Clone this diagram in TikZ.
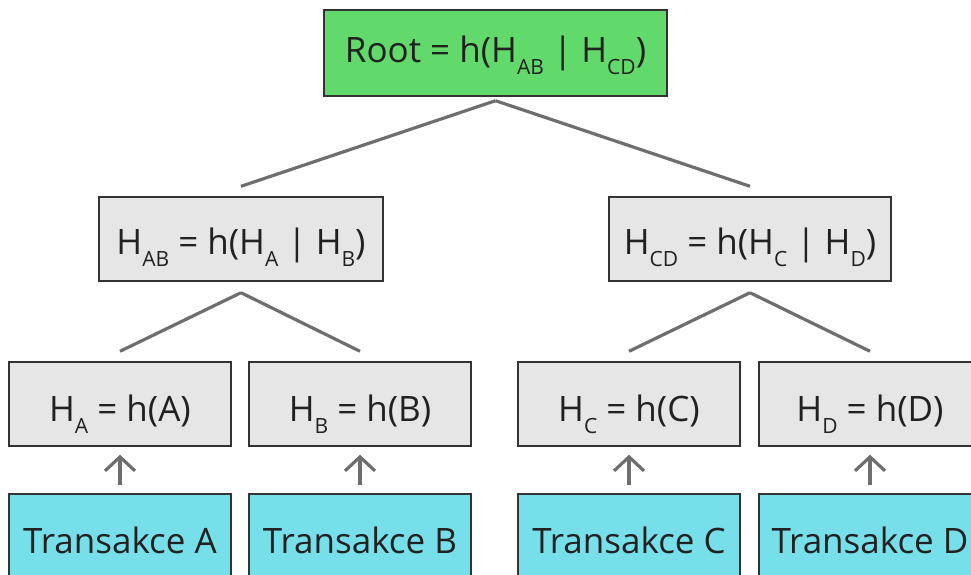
\documentclass[tikz,border=0pt]{standalone}
\usepackage{fontspec}
\setmainfont{Open Sans}
\usetikzlibrary{arrows.meta}
\definecolor{rootgreen}{HTML}{62D96B}
\definecolor{hashgray}{HTML}{E6E6E6}
\definecolor{txcyan}{HTML}{76DFEA}
\definecolor{linkgray}{HTML}{6E6E6E}
\newcommand\hsub[1]{\raisebox{-12pt}{\fontsize{21}{21}\selectfont #1}}

\begin{document}
\begin{tikzpicture}[x=1pt,y=-1pt,
  box/.style={draw=black!80,line width=1.4pt,inner sep=0pt,text=black!87,
    minimum width=222pt,minimum height=84pt,text height=34pt,text depth=0pt,
    font=\fontsize{35}{40}\selectfont},
  link/.style={draw=linkgray,line width=3.2pt},
  up/.style={link,-{Straight Barb[length=14pt,width=30pt]},shorten <=8pt,shorten >=8pt}]
\useasboundingbox (0,0) rectangle (971,575);
\clip (0,0) rectangle (971,575);
\node[box,fill=rootgreen,minimum width=343pt,minimum height=86pt,text height=20pt] (root) at (495.5,53) {Root = h(H\hsub{AB} | H\hsub{CD})};
\node[box,fill=hashgray,minimum width=284pt,text height=30pt] (hAB) at (241,239) {H\hsub{AB} = h(H\hsub{A} | H\hsub{B})};
\node[box,fill=hashgray,minimum width=282pt,text height=30pt] (hCD) at (750,239) {H\hsub{CD} = h(H\hsub{C} | H\hsub{D})};
\foreach \t/\x in {A/120,B/360,C/629,D/870} {
  \node[box,fill=hashgray] (h\t) at (\x,404) {H\hsub{\t} = h(\t)};
  \node[box,fill=txcyan] (t\t) at (\x,536) {Transakce \t};
  \draw[up] (t\t) -- (h\t);
}
% hash tree edges
\draw[link] ([yshift=-4pt]root.south) -- ([yshift=10pt]hAB.north);
\draw[link] ([yshift=-4pt]root.south) -- ([yshift=10pt]hCD.north);
\draw[link] ([yshift=-11pt]hAB.south) -- ([yshift=10pt]hA.north);
\draw[link] ([yshift=-11pt]hAB.south) -- ([yshift=10pt]hB.north);
\draw[link] ([yshift=-11pt]hCD.south) -- ([yshift=10pt]hC.north);
\draw[link] ([yshift=-11pt]hCD.south) -- ([yshift=10pt]hD.north);
\end{tikzpicture}
\end{document}
